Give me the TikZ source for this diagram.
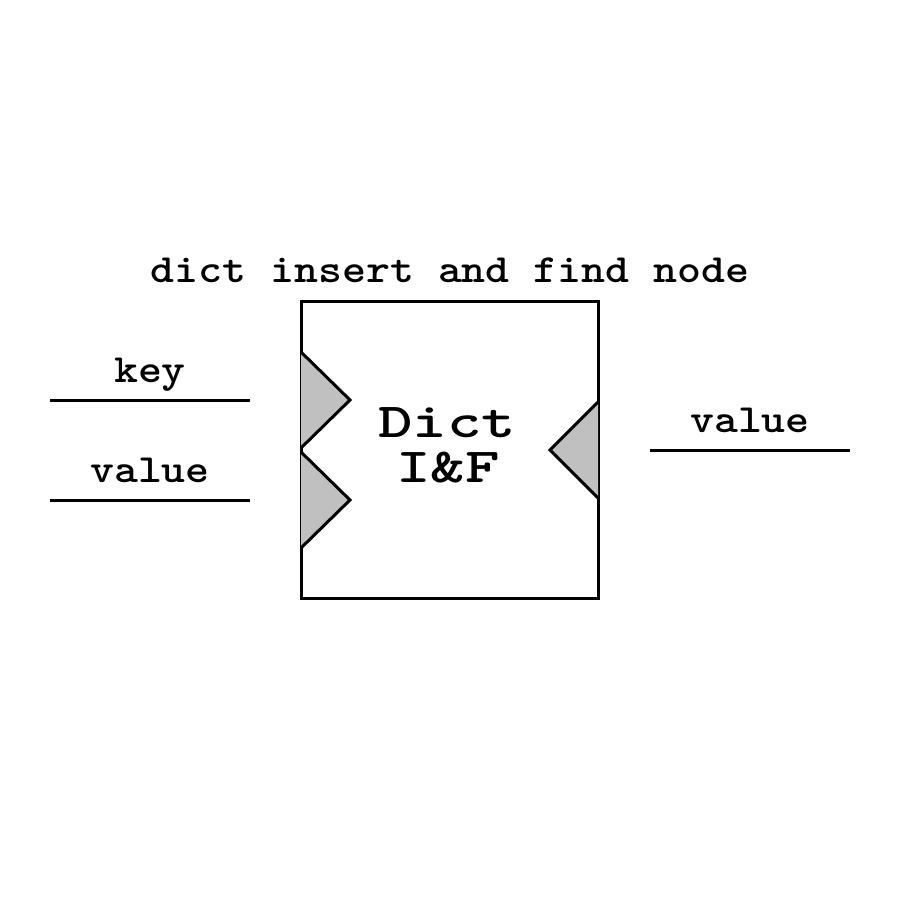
\documentclass[tikz,border=0pt]{standalone}
\usepackage{fontspec}
\usepackage{graphicx}
\definecolor{portgray}{HTML}{C0C0C0}
\newcommand{\lbltext}[1]{\scalebox{1.14}[1]{\fontsize{40}{40}\selectfont\ttfamily\bfseries #1}}
\newcommand{\bigtext}[1]{\scalebox{1.34}[1]{\fontsize{49}{49}\selectfont\ttfamily\bfseries #1}}
\begin{document}
\begin{tikzpicture}[x=1pt,y=-1pt,
  thick line/.style={line width=3pt},
  port/.style={line width=3pt, fill=portgray, line join=miter},
  lbl/.style={inner sep=0pt, anchor=base}]
\useasboundingbox (0,0) rectangle (900,900);
\fill[white] (0,0) rectangle (900,900);
% main box
\node[draw, line width=3pt, minimum width=297pt, minimum height=297pt, inner sep=0pt] (box) at (449.5,449.5) {};
% ports
\draw[port] (301,352) -- (350,400) -- (301,448);
\draw[port] (301,452) -- (350,500) -- (301,548);
\draw[port] (598,402) -- (550,450) -- (598,498);
% title
\node[lbl] (title) at (450,282) {\lbltext{dict insert and find node}};
% box text
\node[lbl] (dict) at (447,437) {\bigtext{Dict}};
\node[lbl] (iaf) at (448,482) {\bigtext{I\&F}};
% wires
\coordinate (k1) at (50,400); \coordinate (k2) at (250,400);
\coordinate (v1) at (50,500); \coordinate (v2) at (250,500);
\coordinate (o1) at (650,450); \coordinate (o2) at (850,450);
\draw[thick line] (k1) -- (k2);
\draw[thick line] (v1) -- (v2);
\draw[thick line] (o1) -- (o2);
\node[lbl] (keylbl) at (150,382) {\lbltext{key}};
\node[lbl] (vallbl) at (150,482) {\lbltext{value}};
\node[lbl] (outlbl) at (750,432) {\lbltext{value}};
\end{tikzpicture}
\end{document}
